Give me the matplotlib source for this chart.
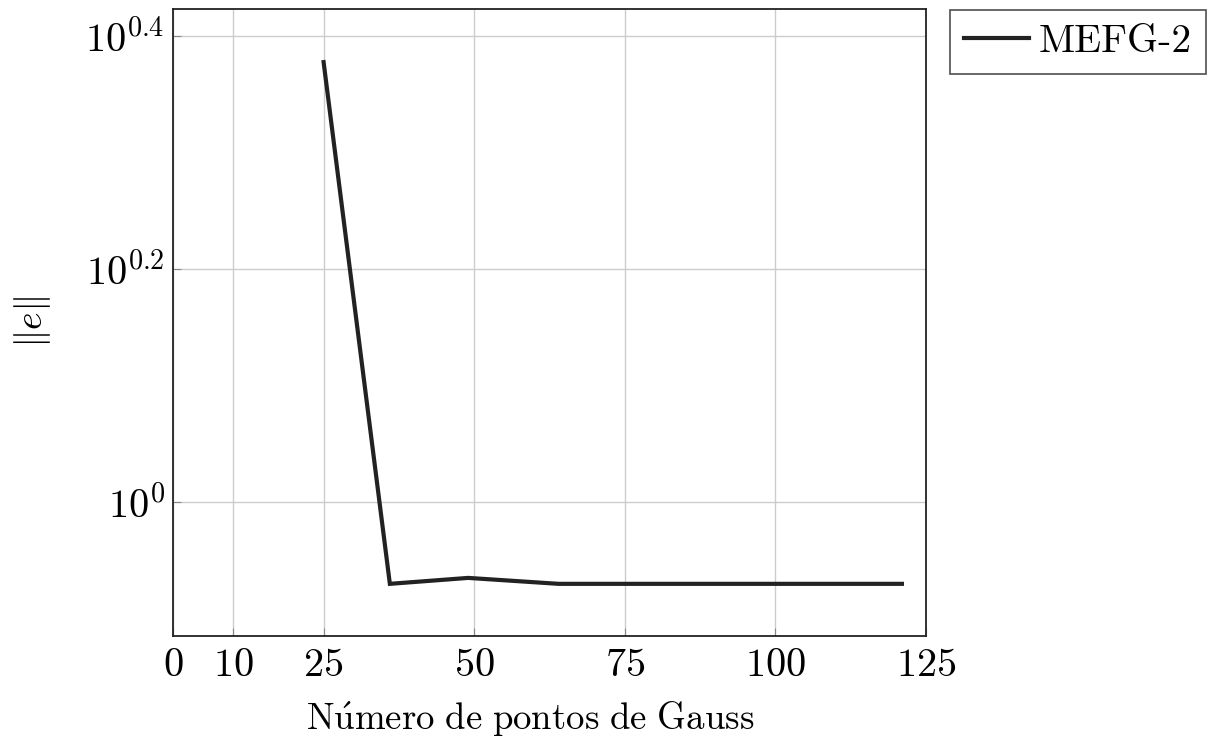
import matplotlib
matplotlib.use("Agg")
import matplotlib.pyplot as plt
import numpy as np

plt.rcParams['mathtext.fontset'] = 'cm'
plt.rcParams['font.family'] = ['cmr10', 'DejaVu Serif']
plt.rcParams['axes.formatter.use_mathtext'] = True

# Gauss points vs. error norm
n_gauss = [25, 36, 49, 64, 81, 100, 121]
err_log10 = [0.3776, -0.0705, -0.0654, -0.0705, -0.0705, -0.0705, -0.0705]
err = [10 ** v for v in err_log10]

x_ticks = [0, 10, 25, 50, 75, 100, 125]
y_tick_exps = [0.0, 0.2, 0.4]
y_tick_labels = [r'$10^{0}$', r'$10^{0.2}$', r'$10^{0.4}$']

fs = 29

fig = plt.figure(figsize=(12.08, 7.36), dpi=100)
ax = fig.add_axes([173 / 1208, 1 - 636 / 736, (926 - 173) / 1208, (636 - 9) / 736])

ax.plot(n_gauss, err, color='#222222', lw=3.0, label='MEFG-2', solid_joinstyle='miter')

ax.set_yscale('log')
ax.set_xlim(0, 125)
ax.set_ylim(10 ** -0.1153, 10 ** 0.4232)

ax.set_xticks(x_ticks)
ax.set_xticklabels([r'$%d$' % t for t in x_ticks])
ax.set_yticks([10 ** e for e in y_tick_exps])
ax.set_yticklabels(y_tick_labels)
ax.yaxis.set_minor_locator(matplotlib.ticker.NullLocator())

ax.tick_params(direction='in', length=6, width=0.8, color='#888888', labelsize=fs, pad=6)
ax.tick_params(axis='x', pad=9)
ax.grid(True, color='#cccccc', lw=1.0)
ax.set_axisbelow(True)
for s in ax.spines.values():
    s.set_linewidth(1.3)
    s.set_color('#222222')

ax.set_xlabel(r'$\mathrm{N\acute{u}mero\ de\ pontos\ de\ Gauss}$', fontsize=26.5)
ax.xaxis.set_label_coords(0.475, -0.1)
ax.set_ylabel(r'$\Vert e\Vert$', fontsize=27)
ax.yaxis.set_label_coords(-0.16, 0.5)

leg = ax.legend(loc='upper left', bbox_to_anchor=(950 / 1208, 1 - 10 / 736),
                bbox_transform=fig.transFigure, fontsize=28.5, frameon=True,
                fancybox=False, edgecolor='#222222', handlelength=1.65,
                handletextpad=0.25, borderpad=0.35, borderaxespad=0)
leg.get_frame().set_linewidth(1.2)

fig.savefig('out.png', dpi=100)
